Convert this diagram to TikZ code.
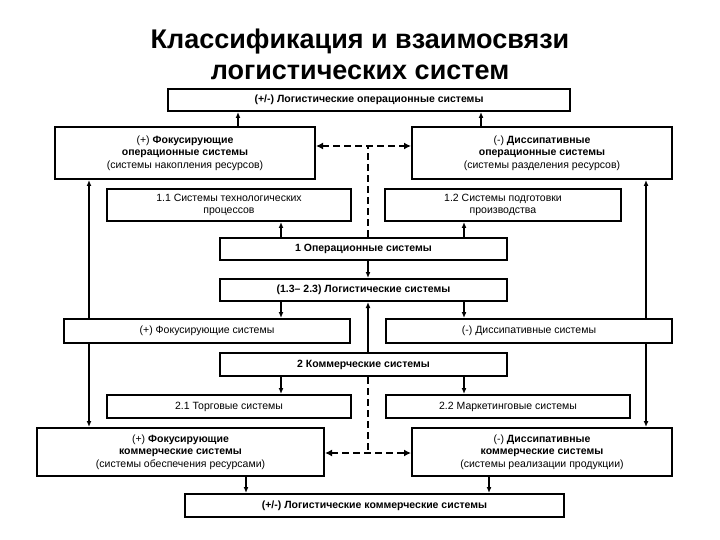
\documentclass[tikz,border=0pt]{standalone}
\usepackage{fontspec}
\setmainfont{Liberation Sans}
\usetikzlibrary{arrows.meta}
\begin{document}
\begin{tikzpicture}[x=1pt,y=-1pt,
  bx/.style={draw,line width=2pt,inner sep=0pt,align=center,font=\fontsize{10.5}{12.5}\selectfont},
  ar/.style={line width=1.5pt,-{Latex[length=6pt,width=5pt]}},
  dar/.style={line width=2.5pt,dash pattern=on 7pt off 4pt,{Latex[length=7pt,width=7pt]}-{Latex[length=7pt,width=7pt]}},
  dl/.style={line width=2.5pt,dash pattern=on 7pt off 4pt}]
\useasboundingbox (0,0) rectangle (720,540);
\node[font=\fontsize{27}{31}\selectfont\bfseries,align=center] (title) at (360,54) {Классификация и взаимосвязи\\логистических систем};
\newcommand\bxat[6]{\node[bx,minimum width=#3-#2,minimum height=#5-#4] (#1) at ({(#2+#3)/2},{(#4+#5)/2}) {#6};}
\bxat{top}{168}{570}{89}{111}{\textbf{(+/-) Логистические операционные системы}}
\bxat{fop}{55}{315}{127}{179}{(+) \textbf{Фокусирующие}\\\textbf{операционные системы}\\(системы накопления ресурсов)}
\bxat{dop}{412}{672}{127}{179}{(-) \textbf{Диссипативные}\\\textbf{операционные системы}\\(системы разделения ресурсов)}
\bxat{s11}{107}{351}{189}{221}{1.1 Системы технологических\\процессов}
\bxat{s12}{385}{621}{189}{221}{1.2 Системы подготовки\\производства}
\bxat{op}{220}{507}{238}{260}{\textbf{1 Операционные системы}}
\bxat{log}{220}{507}{279}{301}{\textbf{(1.3– 2.3) Логистические системы}}
\bxat{fs}{64}{350}{319}{343}{(+) Фокусирующие системы}
\bxat{ds}{386}{672}{319}{343}{(-) Диссипативные системы}
\bxat{com}{220}{507}{353}{376}{\textbf{2 Коммерческие системы}}
\bxat{s21}{107}{351}{395}{418}{2.1 Торговые системы}
\bxat{s22}{386}{630}{395}{418}{2.2 Маркетинговые системы}
\bxat{fc}{37}{324}{428}{476}{(+) \textbf{Фокусирующие}\\\textbf{коммерческие системы}\\(системы обеспечения ресурсами)}
\bxat{dc}{412}{672}{428}{476}{(-) \textbf{Диссипативные}\\\textbf{коммерческие системы}\\(системы реализации продукции)}
\bxat{bot}{185}{564}{494}{517}{\textbf{(+/-) Логистические коммерческие системы}}
% arrows up to top
\draw[ar] (fop.north -| 238,0) -- (top.south -| 238,0);
\draw[ar] (dop.north -| 481,0) -- (top.south -| 481,0);
% long verticals
\draw[ar] (fs.north -| 89,0) -- (fop.south -| 89,0);
\draw[ar] (fs.south -| 89,0) -- (fc.north -| 89,0);
\draw[ar] (ds.north -| 646,0) -- (dop.south -| 646,0);
\draw[ar] (ds.south -| 646,0) -- (dc.north -| 646,0);
% op
\draw[ar] (op.north -| 281,0) -- (s11.south -| 281,0);
\draw[ar] (op.north -| 464,0) -- (s12.south -| 464,0);
\draw[ar] (op.south -| 368,0) -- (log.north -| 368,0);
\draw[ar] (log.south -| 281,0) -- (fs.north -| 281,0);
\draw[ar] (log.south -| 464,0) -- (ds.north -| 464,0);
\draw[ar] (com.north -| 368,0) -- (log.south -| 368,0);
\draw[ar] (com.south -| 281,0) -- (s21.north -| 281,0);
\draw[ar] (com.south -| 464,0) -- (s22.north -| 464,0);
\draw[ar] (fc.south -| 246,0) -- (bot.north -| 246,0);
\draw[ar] (dc.south -| 489,0) -- (bot.north -| 489,0);
% dashed
\coordinate (d1) at (368,146);
\coordinate (d2) at (368,453);
\draw[dl] (op.north -| d1) -- (d1);
\draw[dar] (fop.east |- d1) -- (dop.west |- d1);
\draw[dl] (com.south -| d2) -- (d2);
\draw[dar] (fc.east |- d2) -- (dc.west |- d2);
\end{tikzpicture}
\end{document}
